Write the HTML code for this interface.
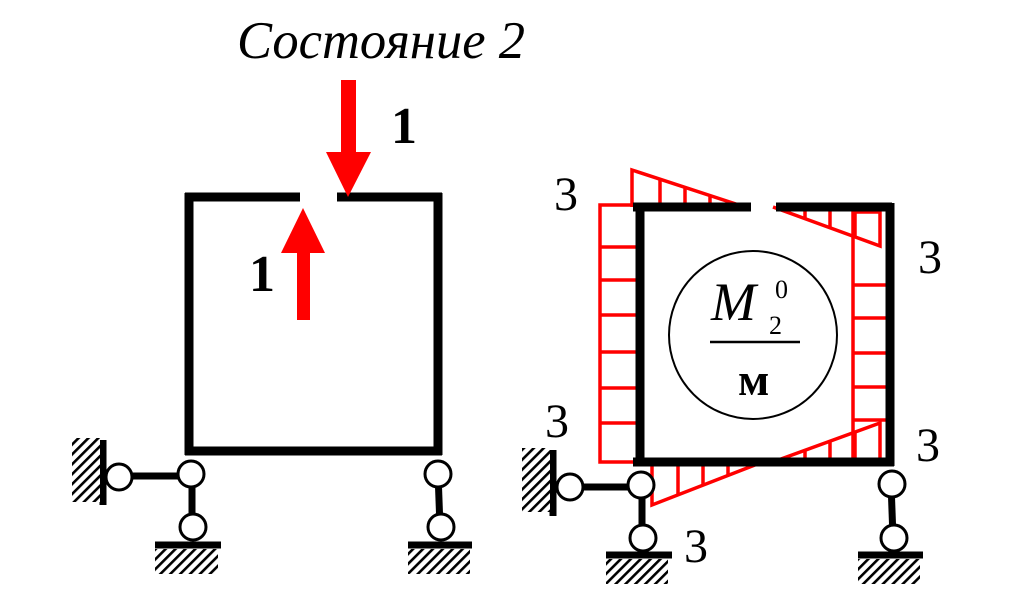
<!DOCTYPE html>
<html><head><meta charset="utf-8"><style>
html,body{margin:0;padding:0;background:#fff;}
svg{display:block;}
</style></head><body>
<svg width="1010" height="589" viewBox="0 0 1010 589" xmlns="http://www.w3.org/2000/svg">
<defs>
<pattern id="h" patternUnits="userSpaceOnUse" width="7" height="7" patternTransform="rotate(45)">
<rect width="7" height="7" fill="#fff"/><rect x="0" y="0" width="2.6" height="7" fill="#000"/>
</pattern>
</defs>
<text x="237" y="58" font-family="Liberation Serif, serif" font-style="italic" font-size="53" textLength="288" lengthAdjust="spacingAndGlyphs">Состояние 2</text>

<g stroke="#000" stroke-width="9" fill="none">
<line x1="185" y1="197" x2="300" y2="197"/>
<line x1="337" y1="197" x2="442" y2="197"/>
<line x1="189" y1="193" x2="189" y2="455"/>
<line x1="438" y1="193" x2="438" y2="455"/>
<line x1="185" y1="451" x2="442" y2="451"/>
</g>
<rect x="341" y="80" width="15" height="73" fill="#f00"/>
<polygon points="326,152 371,152 348,197" fill="#f00"/>
<rect x="297" y="252" width="13" height="68" fill="#f00"/>
<polygon points="281,253 325,253 303,208" fill="#f00"/>
<text x="391" y="143" font-family="Liberation Serif, serif" font-weight="bold" font-size="52">1</text>
<text x="249" y="291" font-family="Liberation Serif, serif" font-weight="bold" font-size="52">1</text>

<g stroke="#000" stroke-width="7">
<line x1="119" y1="476" x2="191" y2="476"/>
<line x1="192" y1="473" x2="192" y2="527"/>
<line x1="438" y1="473" x2="440" y2="527"/>
<line x1="103" y1="440" x2="103" y2="505"/>
<line x1="155" y1="545" x2="221" y2="545"/>
<line x1="408" y1="545" x2="472" y2="545"/>
</g>
<rect x="72" y="438" width="28" height="64" fill="url(#h)"/>
<rect x="155" y="549" width="63" height="25" fill="url(#h)"/>
<rect x="408" y="549" width="62" height="25" fill="url(#h)"/>
<g stroke="#000" stroke-width="3" fill="#fff">
<circle cx="119" cy="477" r="13"/>
<circle cx="191" cy="474" r="13"/>
<circle cx="193" cy="527" r="13"/>
<circle cx="438" cy="474" r="13"/>
<circle cx="441" cy="527" r="13"/>
</g>

<g stroke="#f00" stroke-width="3.5" fill="none">
<polyline points="640,205 600,205 600,462 640,462"/>
<line x1="600" y1="247" x2="640" y2="247"/>
<line x1="600" y1="280" x2="640" y2="280"/>
<line x1="600" y1="315" x2="640" y2="315"/>
<line x1="600" y1="352" x2="640" y2="352"/>
<line x1="600" y1="388" x2="640" y2="388"/>
<line x1="600" y1="423" x2="640" y2="423"/>
<polyline points="632,207 632,170 745,207"/>
<line x1="660" y1="179" x2="660" y2="207"/>
<line x1="685" y1="187" x2="685" y2="207"/>
<line x1="710" y1="196" x2="710" y2="207"/>
<polyline points="773,207 880,246 880,207"/>
<line x1="805" y1="207" x2="805" y2="219"/>
<line x1="830" y1="207" x2="830" y2="228"/>
<line x1="855" y1="207" x2="855" y2="237"/>
<polyline points="880,212 853,212 853,462"/>
<line x1="853" y1="285" x2="890" y2="285"/>
<line x1="853" y1="318" x2="890" y2="318"/>
<line x1="853" y1="353" x2="890" y2="353"/>
<line x1="853" y1="387" x2="890" y2="387"/>
<line x1="853" y1="420" x2="890" y2="420"/>
<polyline points="770,463 880,423 880,463"/>
<line x1="805" y1="450" x2="805" y2="463"/>
<line x1="830" y1="441" x2="830" y2="463"/>
<line x1="855" y1="432" x2="855" y2="463"/>
<polyline points="652,463 652,505 760,463"/>
<line x1="678" y1="495" x2="678" y2="463"/>
<line x1="703" y1="485" x2="703" y2="463"/>
<line x1="728" y1="476" x2="728" y2="463"/>
</g>

<g stroke="#000" stroke-width="9" fill="none">
<line x1="633" y1="207" x2="751" y2="207"/>
<line x1="776" y1="207" x2="892" y2="207"/>
<line x1="640" y1="203" x2="640" y2="466"/>
<line x1="890" y1="203" x2="890" y2="466"/>
<line x1="633" y1="462" x2="894" y2="462"/>
</g>

<circle cx="753" cy="335" r="84" fill="none" stroke="#000" stroke-width="2"/>
<text x="711" y="320" font-family="Liberation Serif, serif" font-style="italic" font-size="54">M</text>
<text x="775" y="298" font-family="Liberation Serif, serif" font-size="26">0</text>
<text x="769" y="334" font-family="Liberation Serif, serif" font-size="26">2</text>
<line x1="710" y1="342" x2="800" y2="342" stroke="#000" stroke-width="2.5"/>
<text x="738" y="395" font-family="Liberation Serif, serif" font-weight="bold" font-size="46">м</text>

<g stroke="#000" stroke-width="7">
<line x1="570" y1="487" x2="640" y2="487"/>
<line x1="642" y1="485" x2="642" y2="538"/>
<line x1="891" y1="483" x2="893" y2="538"/>
<line x1="553" y1="450" x2="553" y2="516"/>
<line x1="606" y1="555" x2="672" y2="555"/>
<line x1="858" y1="555" x2="923" y2="555"/>
</g>
<rect x="522" y="448" width="28" height="64" fill="url(#h)"/>
<rect x="606" y="559" width="62" height="25" fill="url(#h)"/>
<rect x="858" y="559" width="62" height="25" fill="url(#h)"/>
<g stroke="#000" stroke-width="3" fill="#fff">
<circle cx="570" cy="487" r="13"/>
<circle cx="641" cy="485" r="13"/>
<circle cx="643" cy="538" r="13"/>
<circle cx="892" cy="484" r="13"/>
<circle cx="894" cy="538" r="13"/>
</g>

<g font-family="Liberation Serif, serif" font-size="48">
<text x="554" y="210">3</text>
<text x="918" y="273">3</text>
<text x="545" y="437">3</text>
<text x="916" y="461">3</text>
<text x="684" y="562">3</text>
</g>
</svg>
</body></html>
